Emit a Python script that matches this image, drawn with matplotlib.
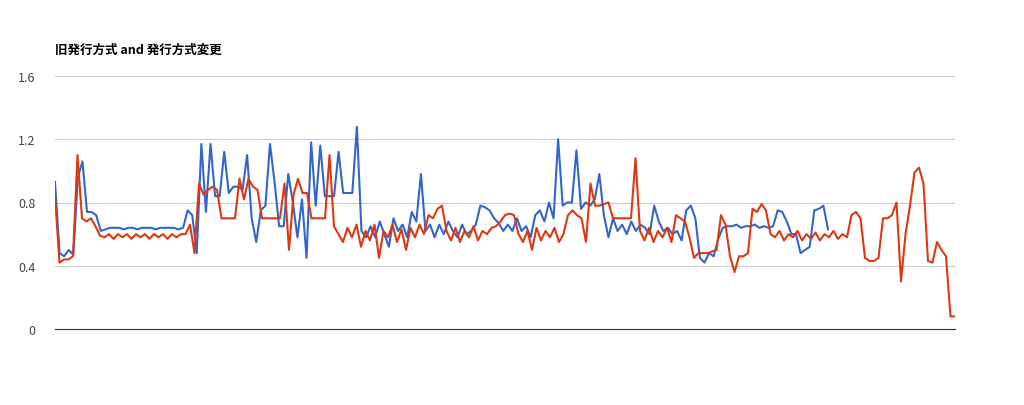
import matplotlib
matplotlib.use("Agg")
import matplotlib.pyplot as plt
import numpy as np

plt.rcParams['font.family'] = ['Noto Sans CJK JP', 'DejaVu Sans']

title = "旧発行方式 and 発行方式変更"

# values read left to right; old series stops around 86% of the axis
old_v = [0.93, 0.48, 0.46, 0.50, 0.47, 0.96, 1.06, 0.74, 0.74, 0.72, 0.62, 0.63, 0.64, 0.64, 0.64, 0.63,
         0.64, 0.64, 0.63, 0.64, 0.64, 0.64, 0.63, 0.64, 0.64, 0.64, 0.64, 0.63, 0.64, 0.75, 0.72, 0.48,
         1.17, 0.74, 1.17, 0.84, 0.84, 1.12, 0.86, 0.90, 0.90, 0.88, 1.10, 0.70, 0.55, 0.75, 0.78, 1.17,
         0.93, 0.65, 0.65, 0.98, 0.80, 0.58, 0.82, 0.45, 1.18, 0.78, 1.16, 0.84, 0.84, 0.84, 1.12, 0.86,
         0.86, 0.86, 1.28, 0.62, 0.58, 0.65, 0.58, 0.68, 0.60, 0.52, 0.70, 0.62, 0.66, 0.58, 0.74, 0.68,
         0.98, 0.62, 0.66, 0.58, 0.66, 0.60, 0.68, 0.62, 0.58, 0.66, 0.60, 0.62, 0.66, 0.78, 0.77, 0.75,
         0.70, 0.67, 0.62, 0.66, 0.62, 0.70, 0.62, 0.65, 0.58, 0.72, 0.75, 0.68, 0.80, 0.70, 1.20, 0.78,
         0.80, 0.80, 1.13, 0.76, 0.80, 0.78, 0.82, 0.98, 0.72, 0.58, 0.70, 0.62, 0.66, 0.60, 0.68, 0.62,
         0.66, 0.64, 0.60, 0.78, 0.68, 0.62, 0.64, 0.60, 0.62, 0.56, 0.75, 0.78, 0.70, 0.45, 0.42, 0.48,
         0.46, 0.57, 0.64, 0.65, 0.65, 0.66, 0.64, 0.65, 0.65, 0.66, 0.64, 0.65, 0.64, 0.65, 0.75, 0.74,
         0.68, 0.60, 0.60, 0.48, 0.50, 0.52, 0.75, 0.76, 0.78, 0.63]
old_end = 773

new_v = [0.84, 0.42, 0.44, 0.44, 0.46, 1.10, 0.70, 0.68, 0.70, 0.65, 0.59, 0.58, 0.60, 0.57, 0.60, 0.58,
         0.60, 0.57, 0.60, 0.58, 0.60, 0.57, 0.60, 0.58, 0.60, 0.57, 0.60, 0.58, 0.60, 0.60, 0.66, 0.48,
         0.92, 0.85, 0.88, 0.90, 0.88, 0.70, 0.70, 0.70, 0.70, 0.95, 0.82, 0.95, 0.90, 0.88, 0.70, 0.70,
         0.70, 0.70, 0.70, 0.92, 0.50, 0.85, 0.95, 0.86, 0.86, 0.70, 0.70, 0.70, 0.70, 1.10, 0.65, 0.60,
         0.55, 0.64, 0.58, 0.66, 0.52, 0.62, 0.56, 0.66, 0.45, 0.62, 0.58, 0.66, 0.55, 0.63, 0.50, 0.64,
         0.58, 0.66, 0.60, 0.72, 0.70, 0.76, 0.78, 0.62, 0.56, 0.64, 0.55, 0.62, 0.58, 0.65, 0.56, 0.62,
         0.60, 0.64, 0.65, 0.68, 0.72, 0.73, 0.72, 0.60, 0.55, 0.62, 0.50, 0.64, 0.56, 0.62, 0.58, 0.64,
         0.55, 0.60, 0.72, 0.75, 0.72, 0.70, 0.55, 0.92, 0.78, 0.78, 0.79, 0.80, 0.70, 0.70, 0.70, 0.70,
         0.70, 1.08, 0.62, 0.56, 0.64, 0.55, 0.62, 0.58, 0.64, 0.55, 0.72, 0.70, 0.68, 0.58, 0.45, 0.48,
         0.48, 0.48, 0.49, 0.50, 0.72, 0.66, 0.46, 0.36, 0.46, 0.46, 0.48, 0.76, 0.74, 0.79, 0.75, 0.60,
         0.58, 0.62, 0.56, 0.60, 0.58, 0.62, 0.56, 0.60, 0.57, 0.61, 0.56, 0.60, 0.58, 0.62, 0.57, 0.60,
         0.58, 0.72, 0.74, 0.70, 0.45, 0.43, 0.43, 0.45, 0.70, 0.70, 0.72, 0.80, 0.30, 0.60, 0.78, 0.99,
         1.02, 0.92, 0.43, 0.42, 0.55, 0.50, 0.46, 0.08, 0.08]
new_end = 900

yticks = [0, 0.4, 0.8, 1.2, 1.6]

old_t = np.linspace(0, old_end, len(old_v))
new_t = np.linspace(0, new_end, len(new_v))

fig = plt.figure(figsize=(10.24, 4.06), dpi=100)
ax = fig.add_axes([55 / 1024, 1 - 330 / 406, 900 / 1024, 253 / 406])
ax.plot(old_t, old_v, color="#3366cc", lw=1.5)
ax.plot(new_t, new_v, color="#dc3912", lw=1.5)
ax.set_xlim(0, 900)
ax.set_ylim(0, 1.6)
ax.set_yticks(yticks)
ax.set_yticklabels([f"{v:g}" for v in yticks])
ax.set_xticks([])
ax.grid(axis="y", color="#cccccc", lw=0.8)
ax.set_axisbelow(True)
for s in ["top", "right", "left"]:
    ax.spines[s].set_visible(False)
ax.spines["bottom"].set_color("#333333")
ax.tick_params(axis="y", length=0, labelsize=9, labelcolor="#444444", pad=14)
fig.text(55 / 1024, 1 - 50 / 406, title, fontsize=9, fontweight="bold", va="center")
fig.savefig("out.png")
